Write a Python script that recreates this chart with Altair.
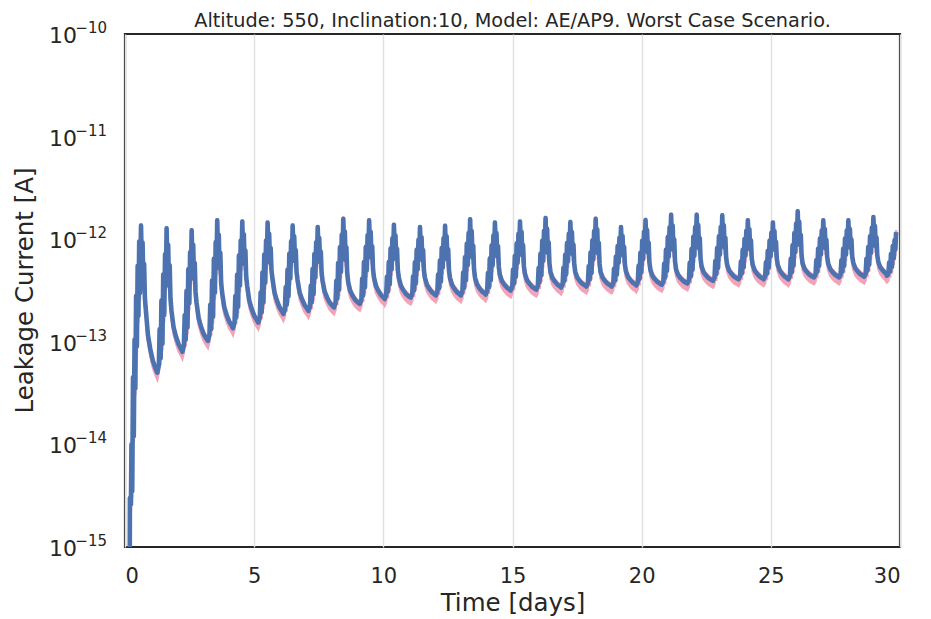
import altair as alt
import pandas as pd

# ---------------- values ----------------
# current is given in units of 1e-13 A, time in days
# start-up transient (before the first daily peak)
start_t = [0.00, 0.17, 0.19, 0.23, 0.25, 0.28, 0.31, 0.34, 0.37, 0.40, 0.43, 0.46, 0.49, 0.52, 0.55, 0.58]
start_v = [0.0002, 0.0003, 0.030, 0.026, 0.10, 0.035, 0.45, 0.12, 1.05, 0.35, 2.8, 0.9, 5.5, 1.8, 9.5, 3.0]

# daily peaks
peak_t = [0.62, 1.61, 2.58, 3.57, 4.54, 5.52, 6.49, 7.46, 8.45, 9.45, 10.41, 11.42,
          12.39, 13.36, 14.32, 15.29, 16.28, 17.24, 18.22, 19.20, 20.15, 21.14, 22.13,
          23.12, 24.11, 25.08, 26.04, 27.03, 28.00, 28.97, 29.85]
peak_v = [13.6, 12.8, 12.2, 15.3, 14.9, 14.5, 13.6, 13.1, 15.8, 15.3, 13.8, 13.1,
          13.5, 15.6, 14.5, 14.9, 16.1, 14.7, 15.8, 13.1, 15.4, 17.3, 17.3,
          17.1, 15.3, 14.5, 18.7, 15.3, 15.3, 16.4, 11.7]
# minimum reached just before each rise (between peak k and k+1)
trough_v = [0.50, 0.80, 1.02, 1.36, 1.54, 1.87, 2.00, 2.16, 2.34, 2.61, 2.70, 2.83,
            2.83, 2.89, 3.16, 3.23, 3.38, 3.46, 3.46, 3.54, 3.60, 3.70, 3.93,
            4.07, 4.07, 4.07, 4.24, 4.24, 4.31, 4.41]
# level right after each spike collapses
knee_v = [2.0, 2.0, 2.4, 3.0, 3.5, 4.1, 4.0, 3.9, 3.8, 4.2, 4.2, 4.2,
          4.2, 4.2, 4.5, 4.6, 4.8, 4.8, 4.8, 4.9, 5.0, 5.1, 5.4,
          5.6, 5.6, 5.6, 5.8, 5.8, 5.9, 6.0]

# shape of one daily cycle read from a representative spike
# (time from peak, log-fraction of the way between the two bounding levels)
rise_dt = [-0.36, -0.30, -0.27, -0.23, -0.20, -0.16, -0.13, -0.09, -0.06, -0.03, 0.00]
rise_f = [0.00, 0.05, 0.30, 0.10, 0.50, 0.20, 0.68, 0.40, 0.82, 0.60, 1.00]  # trough -> peak
fall_dt = [0.03, 0.06, 0.09, 0.12, 0.15, 0.19]
fall_f = [0.55, 0.80, 0.35, 0.55, 0.15, 0.00]                               # knee -> peak
decay_dt = [0.27, 0.36, 0.46, 0.56]
decay_f = [0.60, 0.38, 0.19, 0.07]                                          # next trough -> knee

x_ticks = [0, 5, 10, 15, 20, 25, 30]
y_exps = [-10, -11, -12, -13, -14, -15]

TITLE = "Altitude: 550, Inclination:10, Model: AE/AP9. Worst Case Scenario."
Y_TITLE = "Leakage Current [A]"

# ---------------- build the table ----------------
rows = []


def add(t, v):
    rows.append({"t": t, "v": v * 1e-13})


def between(a, b, f):
    return a * (b / a) ** f


for t, v in zip(start_t, start_v):
    add(t, v)
for k, (tp, P) in enumerate(zip(peak_t, peak_v)):
    if k > 0:
        T = trough_v[k - 1]
        for dt, f in zip(rise_dt, rise_f):
            add(tp + dt, between(T, P, f))
    else:
        add(tp, P)
    if k < len(knee_v):
        K = knee_v[k]
        for dt, f in zip(fall_dt, fall_f):
            add(tp + dt, between(K, P, f))
        Tn = trough_v[k]
        for dt, f in zip(decay_dt, decay_f):
            add(tp + dt, between(Tn, K, f))

df = pd.DataFrame(rows)
df["i"] = range(len(df))
df["lo"] = df["v"] * 0.86
df["hi"] = df["v"] * 1.05

lab = pd.DataFrame({
    "v": [10.0 ** e for e in y_exps],
    "base": ["10"] * len(y_exps),
    "exp": ["\u2212" + str(-e) for e in y_exps],
})
ytitle_df = pd.DataFrame({"label": [Y_TITLE]})

FONT = "DejaVu Sans"
INK = "#262626"
BLUE = "#4c72b0"
PINK = "#f3a3b7"

xscale = alt.Scale(domain=[0, 30], nice=False, zero=False)
yscale = alt.Scale(type="log", domain=[1e-15, 1e-10], nice=False)

xaxis = alt.Axis(values=x_ticks, title="Time [days]", ticks=False, tickSize=0,
                 labelPadding=18, labelFontSize=21, titleFontSize=24.5,
                 titlePadding=5, labelFont=FONT, titleFont=FONT,
                 labelColor=INK, titleColor=INK, titleFontWeight="normal",
                 grid=True, domain=False)
yaxis = alt.Axis(values=[10.0 ** e for e in y_exps], title=None,
                 labels=False, ticks=False, tickSize=0, grid=True, domain=False)

band = alt.Chart(df).mark_area(color=PINK, stroke=PINK, strokeWidth=2.5,
                               strokeJoin="miter", clip=True).encode(
    x=alt.X("t:Q", scale=xscale, axis=xaxis),
    y=alt.Y("hi:Q", scale=yscale, axis=yaxis),
    y2="lo:Q",
)
line = alt.Chart(df).mark_line(color=BLUE, strokeWidth=4.6, strokeJoin="round",
                               clip=True).encode(
    x=alt.X("t:Q", scale=xscale, axis=xaxis),
    y=alt.Y("v:Q", scale=yscale, axis=yaxis),
    order="i:Q",
)
base_txt = alt.Chart(lab).mark_text(align="right", baseline="alphabetic",
                                    fontSize=22, dy=9, font=FONT, color=INK).encode(
    x=alt.value(-48),
    y=alt.Y("v:Q", scale=yscale, axis=None),
    text="base:N",
)
exp_txt = alt.Chart(lab).mark_text(align="right", baseline="alphabetic",
                                   fontSize=15, dy=-1, font=FONT, color=INK).encode(
    x=alt.value(-18),
    y=alt.Y("v:Q", scale=yscale, axis=None),
    text="exp:N",
)
ytitle = alt.Chart(ytitle_df).mark_text(angle=270, align="center", baseline="middle",
                                        fontSize=24.5, font=FONT, color=INK).encode(
    x=alt.value(-99),
    y=alt.value(256.5),
    text="label:N",
)

chart = alt.layer(band, line, base_txt, exp_txt, ytitle).properties(
    width=775, height=513,
    title=alt.TitleParams(TITLE, fontSize=19.3, font=FONT, color=INK,
                          fontWeight="normal", anchor="middle", offset=7, dy=17),
    autosize=alt.AutoSizeParams(type="none"),
    padding={"left": 117, "top": 26, "right": 14, "bottom": 70},
).configure_view(
    stroke=INK, strokeWidth=2.2
).configure_axis(
    gridColor="#e0e0e0", gridWidth=1.4
)

chart.save("out.html", embed_options={"renderer": "svg", "actions": False})
